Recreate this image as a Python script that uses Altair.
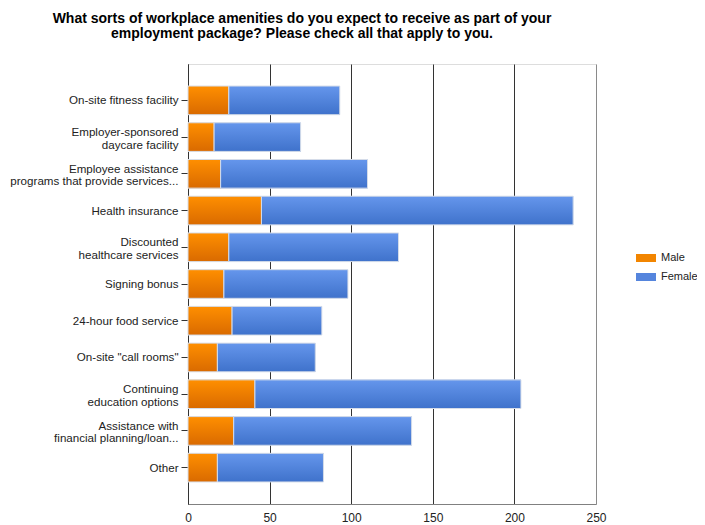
import altair as alt
import pandas as pd

categories = [
    "On-site fitness facility",
    "Employer-sponsored|daycare facility",
    "Employee assistance|programs that provide services...",
    "Health insurance",
    "Discounted|healthcare services",
    "Signing bonus",
    "24-hour food service",
    'On-site "call rooms"',
    "Continuing|education options",
    "Assistance with|financial planning/loan...",
    "Other",
]
male = [25, 16, 20, 45, 25, 22, 27, 18, 41, 28, 18]
female = [68, 53, 90, 191, 104, 76, 55, 60, 163, 109, 65]
series = ["Male", "Female"]
x_ticks = [0, 50, 100, 150, 200, 250]

FONT = "Liberation Sans"

wide = pd.DataFrame({"cat": categories, "Male": male, "Female": female})
wide["start"] = 0
wide["total"] = wide["Male"] + wide["Female"]

long = pd.DataFrame(
    [{"cat": c, "series": s, "value": v, "ord": i}
     for c, m, f in zip(categories, male, female)
     for i, (s, v) in enumerate([("Male", m), ("Female", f)])]
)

y_scale = alt.Scale(paddingInner=0.22, paddingOuter=0.6)

y_enc = alt.Y(
    "cat:N",
    sort=categories,
    title=None,
    scale=y_scale,
    axis=alt.Axis(
        labelExpr="split(datum.label, '|')",
        labelFont=FONT,
        labelFontSize=11.6,
        labelColor="#222222",
        labelLineHeight=12.5,
        labelPadding=3,
        labelOffset={"condition": {"test": "indexof(datum.value, '|') >= 0", "value": -4},
                     "value": 1},
        tickSize=7,
        tickColor="#333333",
        domainColor="#333333",
        labelLimit=200,
    ),
)

x_scale = alt.Scale(domain=[0, 250], nice=False)
x_axis = alt.Axis(
    values=x_ticks,
    title=None,
    grid=True,
    gridColor={"condition": {"test": "datum.value === 250", "value": "#8a8a8a"}, "value": "#333333"},
    gridOpacity=1,
    ticks=False,
    domainColor="#808080",
    labelFont=FONT,
    labelFontSize=12,
    labelColor="#222222",
    labelPadding=8,
    labelFlush=False,
)

base_layer = alt.Chart(long).mark_bar().encode(
    x=alt.X("value:Q", stack="zero", scale=x_scale, axis=x_axis),
    y=y_enc,
    color=alt.Color(
        "series:N",
        sort=series,
        scale=alt.Scale(domain=series, range=["#F28500", "#5585DD"]),
        legend=alt.Legend(
            title=None,
            orient="none",
            legendX=448,
            legendY=184,
            symbolType="M-1,-0.4H1V0.4H-1Z",
            symbolSize=400,
            symbolStrokeWidth=0,
            labelFont=FONT,
            labelFontSize=11,
            labelColor="#222222",
            labelOffset=5,
            rowPadding=4,
        ),
    ),
    order=alt.Order("ord:Q"),
)

male_grad = alt.Gradient(
    gradient="linear", x1=0, x2=0, y1=0, y2=1,
    stops=[alt.GradientStop(offset=0, color="#FF8F00"),
           alt.GradientStop(offset=1, color="#D96A00")],
)
female_grad = alt.Gradient(
    gradient="linear", x1=0, x2=0, y1=0, y2=1,
    stops=[alt.GradientStop(offset=0, color="#6596EC"),
           alt.GradientStop(offset=1, color="#3F72CB")],
)

male_layer = alt.Chart(wide).mark_bar(
    fill=male_grad, stroke="#d6dde9", strokeWidth=1
).encode(
    x=alt.X("start:Q", scale=x_scale),
    x2="Male:Q",
    y=alt.Y("cat:N", sort=categories, scale=y_scale),
)

female_layer = alt.Chart(wide).mark_bar(
    fill=female_grad, stroke="#d6dde9", strokeWidth=1
).encode(
    x=alt.X("Male:Q", scale=x_scale),
    x2="total:Q",
    y=alt.Y("cat:N", sort=categories, scale=y_scale),
)

chart = alt.layer(base_layer, male_layer, female_layer).properties(
    width=408,
    height=440,
    autosize=alt.AutoSizeParams(type="none"),
    padding={"left": 180, "top": 56, "right": 101, "bottom": 21},
    title=alt.TitleParams(
        text=["What sorts of workplace amenities do you expect to receive as part of your",
              "employment package? Please check all that apply to you."],
        font=FONT,
        fontSize=14,
        fontWeight="bold",
        color="#000000",
        anchor="middle",
        dx=-90,
        offset=23,
        lineHeight=15.5,
    ),
).configure_view(stroke=None).configure(background="white")

chart.save("out.html", embed_options={"renderer": "svg", "actions": False})
